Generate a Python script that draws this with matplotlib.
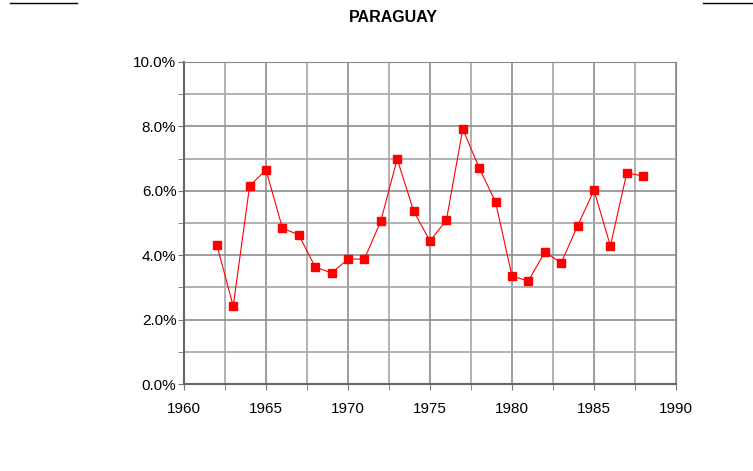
import matplotlib
matplotlib.use("Agg")
import matplotlib.pyplot as plt
from matplotlib.lines import Line2D
from matplotlib import ticker
import numpy as np

plt.rcParams['font.family'] = ['Liberation Sans', 'DejaVu Sans']

years = list(range(1962, 1989))
rate = [4.32, 2.42, 6.15, 6.65, 4.84, 4.63, 3.63, 3.45, 3.88, 3.88,
        5.06, 6.99, 5.37, 4.44, 5.09, 7.92, 6.71, 5.65, 3.35, 3.20,
        4.10, 3.76, 4.91, 6.02, 4.29, 6.55, 6.46]

fig = plt.figure(figsize=(7.53, 4.71), dpi=100)
ax = fig.add_axes([0.2444, 0.1847, 0.6533, 0.6837])

ax.plot(years, rate, color='#ff0000', lw=0.8, marker='s', markersize=5.5,
        markeredgecolor='#ff0000')

ax.set_xlim(1960, 1990)
ax.set_ylim(0, 10)
ax.set_xticks(np.arange(1960, 1991, 5))
ax.set_xticks(np.arange(1960, 1991, 2.5), minor=True)
ax.set_yticks(np.arange(0, 10.1, 2))
ax.set_yticks(np.arange(0, 10.1, 1), minor=True)
ax.yaxis.set_major_formatter(ticker.FuncFormatter(lambda v, p: '%.1f%%' % v))

ax.grid(True, which='major', color='#8c8c8c', lw=1.2)
ax.grid(True, which='minor', color='#a6a6a6', lw=1.2)
ax.set_axisbelow(True)
for s in ax.spines.values():
    s.set_color('#888888')
ax.spines['left'].set_color('#666666')
ax.spines['bottom'].set_color('#666666')
ax.spines['left'].set_linewidth(1.5)
ax.spines['bottom'].set_linewidth(1.5)

ax.tick_params(which='both', direction='out', length=4, color='#777777',
               labelsize=11, labelcolor='black')
ax.tick_params(axis='y', which='both', pad=1.5)
ax.tick_params(axis='x', which='both', pad=9)

fig.text(0.522, 0.963, 'PARAGUAY', ha='center', va='center',
         fontsize=11.5, fontweight='bold')

fig.add_artist(Line2D([10/753, 77/753], [1 - 3/471, 1 - 3/471], color='black', lw=1))
fig.add_artist(Line2D([703/753, 1.0], [1 - 3/471, 1 - 3/471], color='black', lw=1))

fig.savefig('out.png', dpi=100)
